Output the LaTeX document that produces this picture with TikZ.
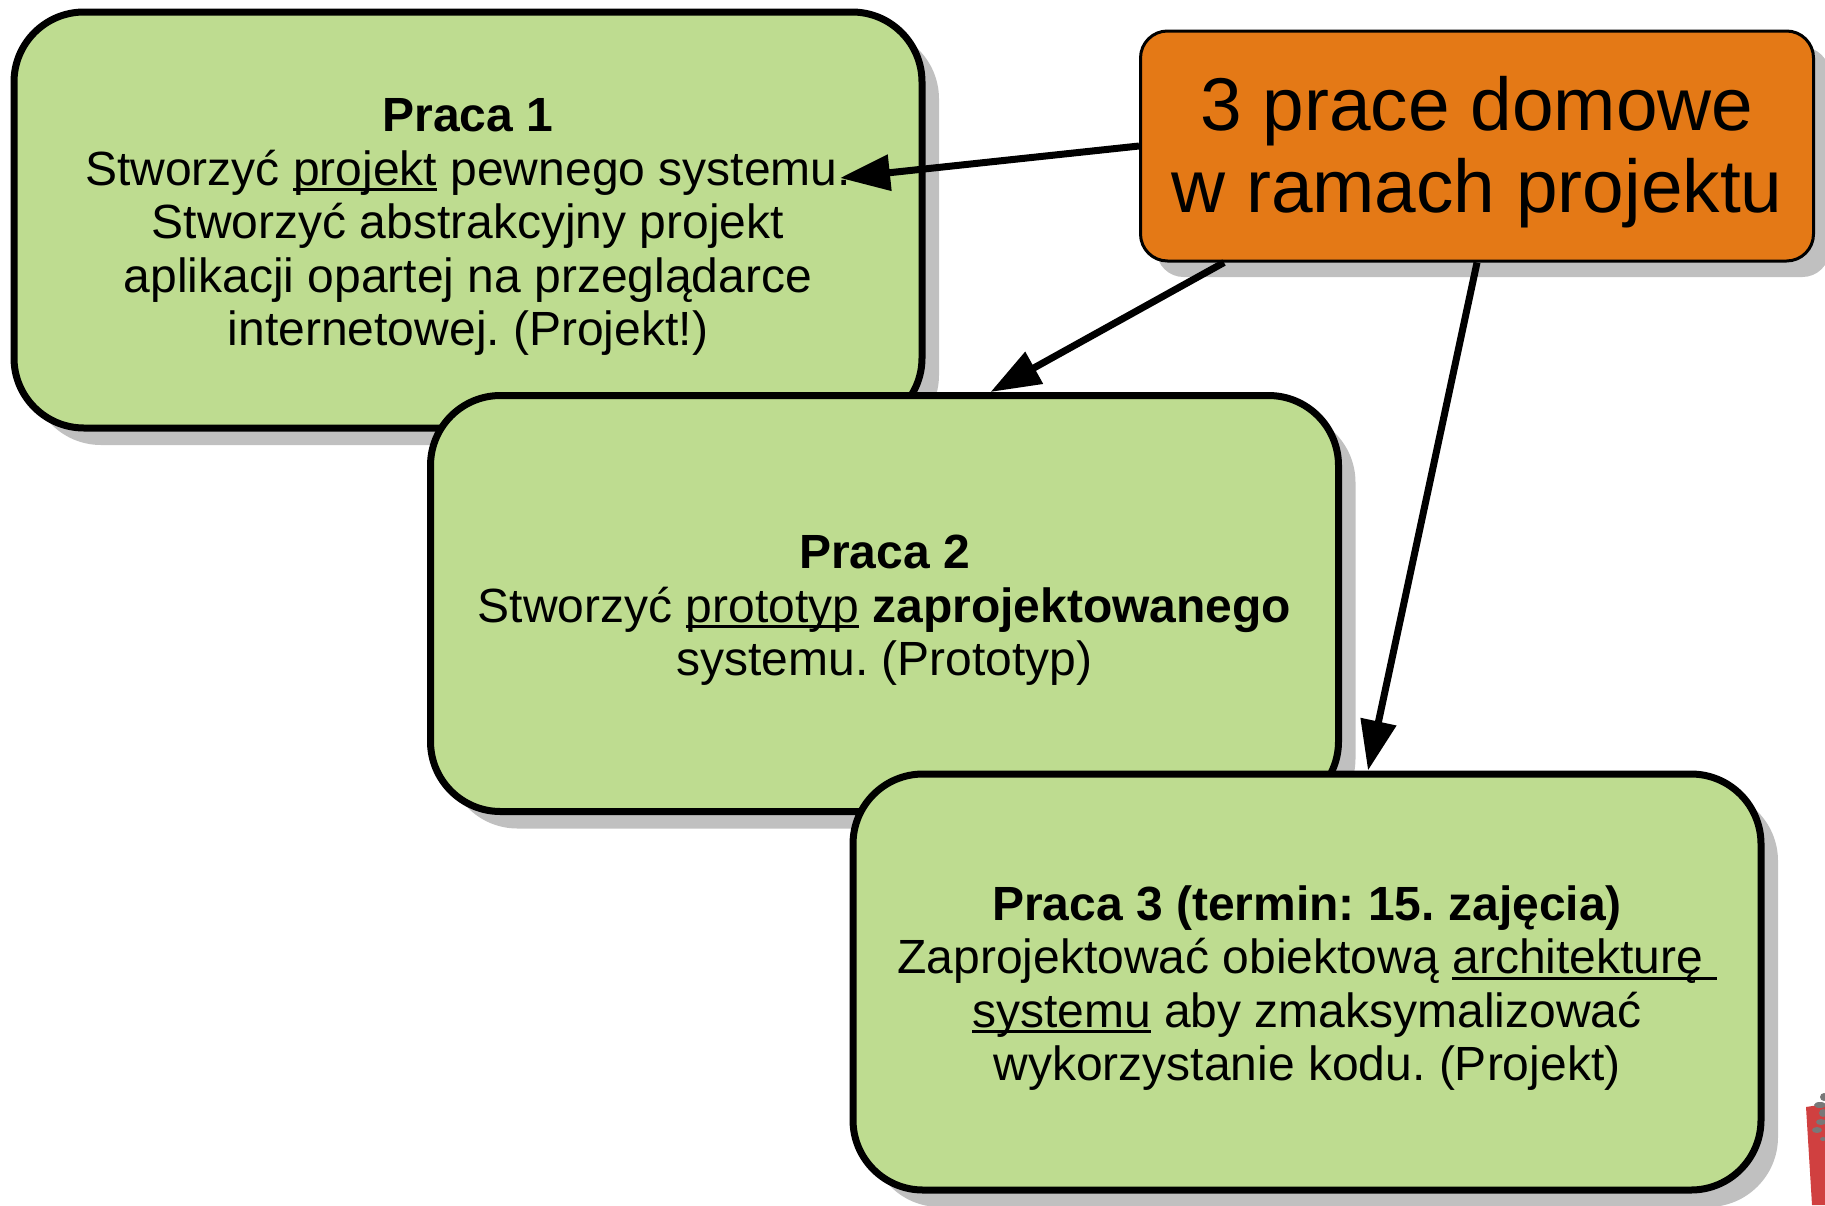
\documentclass[tikz,border=0pt]{standalone}
\usepackage{fontspec}
\setmainfont{Liberation Sans}
\frenchspacing
\usetikzlibrary{arrows.meta, shadows}
\definecolor{pracaFill}{RGB}{190,220,144}
\definecolor{tematFill}{RGB}{228,121,22}
\definecolor{cienGray}{RGB}{192,192,192}
\definecolor{logoRed}{RGB}{208,64,64}
\definecolor{logoGray}{RGB}{120,120,120}
\newsavebox{\podkrbox}
\newcommand{\podkr}[1]{\sbox{\podkrbox}{#1}\rlap{\rule[-0.12em]{\wd\podkrbox}{1.4pt}}\usebox{\podkrbox}}
\newcommand{\gora}[1]{\rule{0pt}{#1}}

\begin{document}
\begin{tikzpicture}[
  x=0.5pt, y=-0.5pt,
  praca/.style={draw, line width=3.5pt, rounded corners=35pt, fill=pracaFill,
                minimum width=454pt, minimum height=208pt, align=center,
                font=\fontsize{24}{26.75}\selectfont,
                general shadow={fill=cienGray, shadow xshift=8.5pt, shadow yshift=-8.5pt}},
  temat/.style={draw, line width=1.5pt, rounded corners=13.5pt, fill=tematFill,
                minimum width=336.5pt, minimum height=115pt, align=center,
                font=\fontsize{37.4}{41}\selectfont,
                general shadow={fill=cienGray, shadow xshift=8pt, shadow yshift=-8pt}},
  a/.style={-{Triangle[length=25pt, width=17.5pt]}, line width=3.5pt}
]
\useasboundingbox (0,0) rectangle (1825,1205);

\node[praca] (praca1) at (468,220) {\gora{0.98em}\textbf{Praca 1}\\Stworzyć \podkr{projekt} pewnego systemu.\\Stworzyć abstrakcyjny projekt\\aplikacji opartej na przeglądarce\\internetowej. (Projekt!)};
\node[praca] (praca2) at (884.5,603.5) {\gora{0.98em}\textbf{Praca 2}\\Stworzyć \podkr{prototyp} \textbf{zaprojektowanego}\\systemu. (Prototyp)};
\node[praca] (praca3) at (1307,982) {\gora{0.98em}\textbf{Praca 3 (termin: 15. zajęcia)}\\Zaprojektować obiektową \podkr{architekturę\ }\\\podkr{systemu} aby zmaksymalizować\\wykorzystanie kodu. (Projekt)};
\node[temat] (temat) at (1477,146) {\gora{0.88em}3 prace domowe\\w ramach projektu};

\coordinate (cel1) at (840,178);
\draw[a] (temat.west) -- (cel1);
\draw[a] ([xshift=42.5pt]temat.south west) -- ([xshift=53pt]praca2.north);
\draw[a] (temat.south) -- ([xshift=30.5pt]praca3.north);

\fill[logoRed] (1806,1107) -- (1825,1104) -- (1825,1205) -- (1812,1205) -- cycle;
\fill[logoGray] (1824,1097) ellipse [x radius=4, y radius=4];
\fill[logoGray] (1820,1105) ellipse [x radius=6, y radius=3];
\fill[logoGray] (1823,1113) ellipse [x radius=4, y radius=4];
\fill[logoGray] (1821,1122) ellipse [x radius=5, y radius=3];
\fill[logoGray] (1817,1130) ellipse [x radius=5, y radius=3];
\fill[logoGray] (1823,1139) ellipse [x radius=3, y radius=2];
\end{tikzpicture}
\end{document}
